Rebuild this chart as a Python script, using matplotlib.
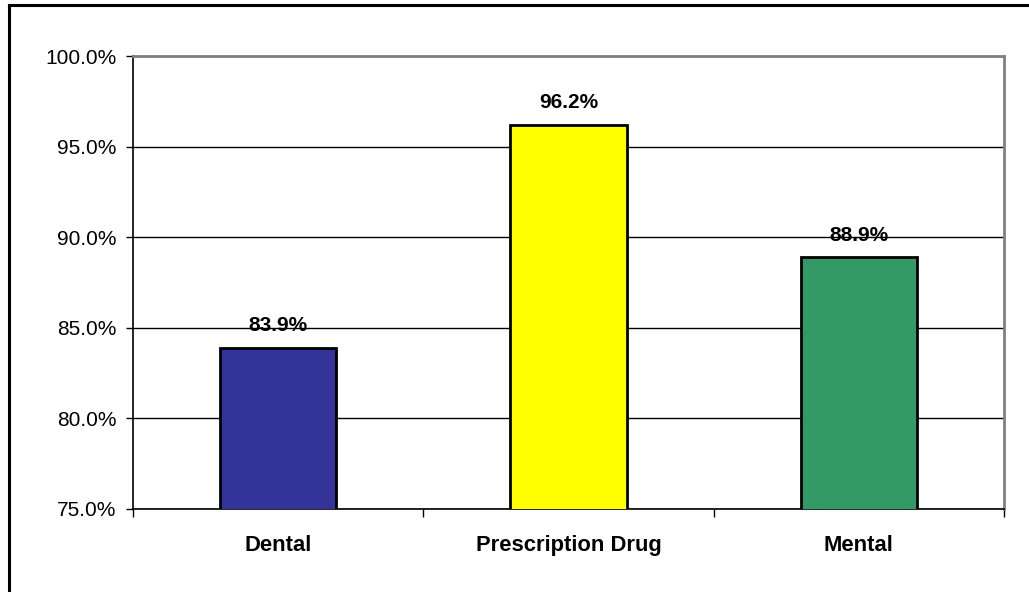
import matplotlib
matplotlib.use("Agg")
import matplotlib.pyplot as plt
from matplotlib.lines import Line2D
from matplotlib.ticker import FuncFormatter, MultipleLocator

categories = ["Dental", "Prescription Drug", "Mental"]
values = [83.9, 96.2, 88.9]
colors = ["#333399", "#FFFF00", "#339966"]

plt.rcParams["font.family"] = ["Liberation Sans", "DejaVu Sans"]

W, H = 1029, 592
fig = plt.figure(figsize=(W / 100, H / 100), dpi=100)
ax = fig.add_axes([133 / W, 1 - 509 / H, (1004 - 133) / W, (509 - 56) / H])

x = list(range(len(categories)))
ax.bar(x, values, width=0.4, color=colors, edgecolor="black", linewidth=2, zorder=3)

for xi, v in zip(x, values):
    ax.annotate(f"{v:.1f}%", (xi, v), xytext=(0, 9), textcoords="offset points",
                ha="center", va="bottom", fontsize=15, fontweight="bold", zorder=4)

ax.set_ylim(75, 100)
ax.set_xlim(-0.5, len(categories) - 0.5)
ax.yaxis.set_major_locator(MultipleLocator(5))
ax.yaxis.set_major_formatter(FuncFormatter(lambda v, _: f"{v:.1f}%"))
ax.grid(axis="y", color="black", linewidth=1, zorder=1)
ax.set_axisbelow(True)

# category labels centred on the bars, tick marks on category boundaries
ax.set_xticks(x)
ax.set_xticklabels(categories, fontsize=15.8, fontweight="bold")
ax.tick_params(axis="x", which="major", length=0, pad=19)
ax.set_xticks([i - 0.5 for i in range(len(categories) + 1)], minor=True)
ax.tick_params(axis="x", which="minor", length=6, width=1, direction="out", color="black")
ax.tick_params(axis="y", length=5, width=1, direction="out", labelsize=15, pad=7)

for side in ("left", "bottom"):
    ax.spines[side].set_color("black")
    ax.spines[side].set_linewidth(1.2)
for side in ("top", "right"):
    ax.spines[side].set_color("#808080")
    ax.spines[side].set_linewidth(2)

# outer frame lines along the top and left edges
fig.add_artist(Line2D([9 / W, 1], [1 - 5 / H, 1 - 5 / H], transform=fig.transFigure,
                      color="black", linewidth=2.2))
fig.add_artist(Line2D([9 / W, 9 / W], [0, 1 - 5 / H], transform=fig.transFigure,
                      color="black", linewidth=2.2))

fig.savefig("out.png", dpi=100, facecolor="white")
